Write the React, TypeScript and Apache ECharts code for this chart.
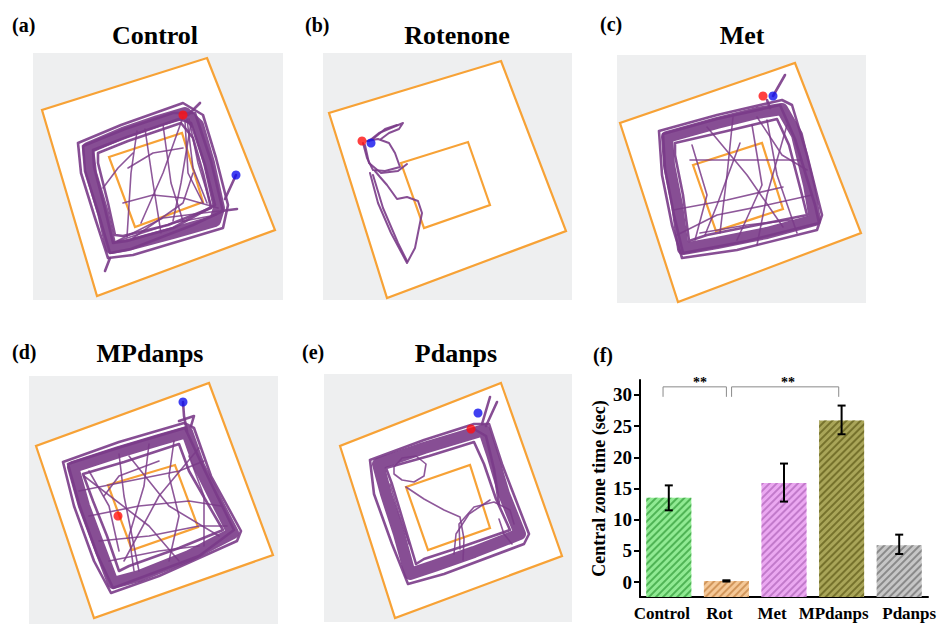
import React, { useEffect, useRef } from "react";
import * as echarts from "echarts";

// ---------------- Bar chart (f) data ----------------
const categories = ["Control", "Rot", "Met", "MPdanps", "Pdanps"];
const meanValues = [13.5, 0.15, 15.9, 25.9, 5.9];
const errLow = [11.5, 0.08, 12.9, 23.7, 4.5];
const errHigh = [15.5, 0.28, 19.0, 28.3, 7.6];
const yTicks = [0, 5, 10, 15, 20, 25, 30];
const axisFloor = -2.4;
const axisTop = 32.4;
const barColors = ["#90ea93", "#f5c897", "#eba8f1", "#a9a558", "#c6c6c6"];
const hatchColors = ["#4fb455", "#d2975c", "#c27acb", "#76722c", "#8a8a8a"];
// brackets: [fromPos, toPos, barY, endY] (category positions)
const sigBrackets = [
  [-0.1, 1.0, 31.3, 29.7],
  [1.09, 2.95, 31.3, 29.7],
];
const sigText = ["**", "**"];
const sigTextPos = [0.54, 2.07];
const sigTextY = 32.0;

// ---------------- Trajectory panels ----------------
const panelTitles = ["Control", "Rotenone", "Met", "MPdanps", "Pdanps"];
const panelLabels = ["(a)", "(b)", "(c)", "(d)", "(e)", "(f)"];

// Panel (a) Control
const outerA = [[174, 5], [242, 177], [64, 243], [9, 57]];
const innerA = [[76, 104], [149, 80], [170, 149], [102, 174]];
const coreA = [[55, 95], [90, 80], [125, 68], [152, 60], [165, 72], [176, 110], [186, 155], [182, 168], [140, 180], [95, 192], [78, 195], [70, 160], [58, 120], [55, 95]];
const edgesA = [
  [[45, 90], [88, 72], [150, 50], [170, 62], [183, 105], [195, 152], [190, 175], [100, 202], [75, 205], [62, 165], [48, 120], [45, 90]],
  [[65, 100], [95, 88], [148, 70], [160, 85], [170, 120], [178, 155], [135, 172], [90, 183], [82, 182], [75, 150], [65, 110], [65, 100]],
  [[50, 93], [92, 76], [140, 60], [162, 60], [178, 108], [190, 158], [160, 172], [98, 196], [77, 200], [66, 162], [52, 118], [50, 93]],
  [[60, 97], [94, 84], [146, 66], [158, 70], [172, 112], [182, 152], [140, 175], [94, 188], [80, 190], [72, 156], [61, 114], [60, 97]],
  [[77, 205], [72, 218]],
  [[155, 62], [167, 50]],
  [[203, 122], [192, 146]],
  [[188, 158], [204, 156]],
];
const pathsA = [
  [[104, 78], [98, 120], [94, 184]],
  [[112, 76], [120, 130], [128, 180]],
  [[152, 68], [155, 120], [170, 150]],
  [[156, 66], [165, 110], [178, 152]],
  [[154, 66], [160, 115], [174, 150]],
  [[150, 64], [130, 120], [108, 170]],
  [[95, 115], [120, 100], [150, 95]],
  [[90, 150], [120, 142], [150, 145], [185, 155]],
  [[80, 190], [130, 165], [186, 158]],
  [[85, 188], [140, 170], [183, 162]],
  [[70, 135], [85, 115], [100, 100]],
  [[100, 185], [150, 150], [160, 120]],
  [[130, 72], [138, 130], [150, 168]],
  [[158, 70], [148, 130], [140, 168]],
];
const redA = [150, 62];
const blueA = [203, 122];

// Panel (b) Rotenone
const outerB = [[178, 8], [243, 178], [64, 245], [6, 60]];
const innerB = [[78, 110], [145, 89], [167, 152], [101, 175]];
const coreB: number[][] = [];
const edgesB = [
  [[40, 90], [44, 105], [50, 117], [62, 118], [77, 114], [72, 100], [66, 90], [55, 86], [44, 88]],
  [[42, 92], [46, 110], [58, 120], [75, 118], [84, 111]],
  [[46, 88], [56, 80], [68, 75], [80, 70], [76, 76], [66, 80], [58, 86]],
  [[50, 86], [62, 76], [74, 72]],
  [[47, 120], [55, 150], [68, 180], [84, 210], [92, 195], [99, 160], [95, 148], [84, 144], [74, 146], [64, 132], [57, 124], [52, 118]],
  [[50, 122], [60, 155], [75, 190], [84, 208]],
];
const pathsB: number[][][] = [];
const redB = [39, 88];
const blueB = [48, 90];

// Panel (c) Met
const outerC = [[178, 8], [244, 178], [61, 247], [3, 68]];
const innerC = [[76, 110], [145, 88], [166, 154], [99, 176]];
const coreC = [[50, 82], [100, 68], [140, 58], [165, 54], [180, 80], [192, 130], [198, 165], [150, 178], [100, 188], [66, 194], [60, 150], [52, 110], [50, 82]];
const edgesC = [
  [[42, 76], [100, 60], [165, 45], [175, 50], [190, 100], [205, 160], [200, 175], [120, 195], [65, 203], [55, 170], [45, 120], [42, 76]],
  [[58, 88], [110, 76], [160, 64], [172, 90], [185, 140], [190, 160], [140, 170], [90, 180], [72, 186], [66, 140], [58, 100], [58, 88]],
  [[46, 79], [100, 64], [163, 50], [178, 84], [198, 150], [202, 168], [130, 186], [66, 198], [57, 160], [48, 114], [46, 79]],
  [[150, 45], [153, 53]],
  [[156, 41], [168, 20]],
];
const pathsC = [
  [[90, 72], [130, 120], [166, 172]],
  [[116, 62], [110, 120], [103, 178]],
  [[73, 105], [120, 105], [183, 105]],
  [[123, 88], [100, 150], [88, 180]],
  [[140, 62], [165, 100], [190, 115]],
  [[56, 155], [110, 145], [166, 132]],
  [[83, 178], [130, 170], [175, 165]],
  [[150, 65], [160, 120], [180, 178]],
  [[60, 180], [100, 160], [150, 150], [195, 140]],
  [[135, 70], [145, 130], [120, 185]],
  [[75, 90], [90, 140], [78, 185]],
  [[170, 70], [150, 140], [140, 190]],
];
const redC = [146, 41];
const blueC = [156, 41];

// Panel (d) MPdanps
const outerD = [[180, 7], [244, 179], [65, 242], [7, 70]];
const innerD = [[79, 109], [146, 89], [169, 151], [103, 174]];
const coreD = [[44, 91], [90, 76], [130, 64], [158, 56], [170, 90], [190, 130], [204, 157], [160, 180], [110, 200], [84, 207], [70, 170], [55, 130], [44, 91]];
const edgesD = [
  [[34, 86], [90, 66], [155, 47], [165, 52], [182, 100], [212, 155], [208, 165], [130, 200], [82, 217], [65, 185], [45, 130], [34, 86]],
  [[54, 98], [95, 86], [150, 68], [160, 95], [180, 130], [194, 154], [150, 172], [100, 190], [90, 195], [78, 160], [64, 125], [54, 98]],
  [[39, 88], [92, 71], [156, 52], [176, 95], [205, 154], [170, 180], [84, 212], [68, 178], [50, 128], [39, 88]],
  [[154, 26], [155, 40], [158, 55]],
  [[150, 45], [165, 40], [162, 50]],
];
const pathsD = [
  [[60, 95], [80, 130], [90, 175]],
  [[90, 78], [95, 120], [110, 195]],
  [[120, 68], [115, 110], [100, 160], [105, 195]],
  [[145, 65], [140, 100], [150, 140], [140, 185]],
  [[160, 80], [175, 120], [175, 170]],
  [[50, 115], [100, 105], [150, 95], [175, 85]],
  [[60, 140], [110, 130], [160, 125], [192, 130]],
  [[70, 165], [120, 160], [170, 150], [198, 150]],
  [[80, 185], [130, 175], [170, 170]],
  [[55, 100], [120, 150], [150, 185]],
  [[170, 72], [130, 120], [95, 185]],
  [[100, 80], [140, 130], [190, 160]],
  [[75, 120], [90, 100], [130, 85]],
];
const redD = [89, 140];
const blueD = [154, 26];

// Panel (e) Pdanps
const outerE = [[177, 9], [238, 182], [71, 244], [16, 72]];
const innerE = [[82, 113], [146, 91], [166, 154], [104, 176]];
const coreE = [[54, 90], [100, 74], [140, 62], [160, 56], [168, 80], [180, 120], [196, 160], [150, 178], [110, 192], [86, 200], [75, 160], [62, 120], [54, 90]];
const edgesE = [
  [[46, 86], [100, 66], [150, 50], [165, 50], [178, 90], [205, 160], [200, 170], [120, 200], [84, 210], [68, 170], [50, 120], [46, 86]],
  [[62, 94], [105, 82], [150, 68], [160, 90], [172, 125], [186, 156], [140, 172], [100, 185], [92, 190], [80, 150], [68, 110], [62, 94]],
  [[150, 55], [162, 62], [170, 95], [175, 130]],
  [[158, 50], [166, 23]],
  [[162, 52], [173, 28]],
];
const pathsE = [
  [[70, 93], [78, 84], [92, 82], [102, 90], [100, 102], [90, 108], [78, 106], [70, 100], [70, 93]],
  [[82, 113], [100, 125], [120, 136], [136, 143], [140, 165], [139, 186]],
  [[136, 175], [135, 150], [150, 133], [170, 128], [186, 136], [190, 150]],
  [[130, 180], [132, 160], [145, 140], [166, 126]],
  [[66, 110], [75, 140], [85, 170]],
  [[175, 145], [180, 160], [188, 170]],
];
const redE = [147, 55];
const blueE = [154, 39];

const PURPLE = "#7a3b88";
const ORANGE = "#f7a236";
const SERIF = "Liberation Serif";

const panels = [
  { box: { left: 33, top: 53, width: 250, height: 247 }, outer: outerA, inner: innerA, core: coreA, edges: edgesA, paths: pathsA, red: redA, blue: blueA },
  { box: { left: 323, top: 53, width: 249, height: 247 }, outer: outerB, inner: innerB, core: coreB, edges: edgesB, paths: pathsB, red: redB, blue: blueB },
  { box: { left: 617, top: 55, width: 249, height: 248 }, outer: outerC, inner: innerC, core: coreC, edges: edgesC, paths: pathsC, red: redC, blue: blueC },
  { box: { left: 29, top: 376, width: 249, height: 248 }, outer: outerD, inner: innerD, core: coreD, edges: edgesD, paths: pathsD, red: redD, blue: blueD },
  { box: { left: 324, top: 374, width: 248, height: 248 }, outer: outerE, inner: innerE, core: coreE, edges: edgesE, paths: pathsE, red: redE, blue: blueE },
];

const titlePos = [[155, 35], [457, 35], [742, 35], [150, 353], [456, 353]];
const labelPos = [[12, 25], [305, 25], [600, 24], [12, 352], [302, 352], [593, 355]];
// horizontal nudges of the x labels (px, negative = left)
const xLabelShift = [-7, -7, -12, -8, 10];

function textStyle(text: string, size: number, align: string) {
  return {
    text,
    fill: "#000",
    font: `bold ${size}px ${SERIF}`,
    fontFamily: SERIF,
    fontWeight: "bold",
    fontSize: size,
    align,
    verticalAlign: "middle",
  };
}

function buildOption() {
  const grid: any[] = [];
  const xAxis: any[] = [];
  const yAxis: any[] = [];
  const series: any[] = [];

  panels.forEach((p, k) => {
    grid.push({ ...p.box, show: true, backgroundColor: "#eeeff0", borderWidth: 0, containLabel: false });
    xAxis.push({ type: "value", gridIndex: k, min: 0, max: p.box.width, show: false });
    yAxis.push({ type: "value", gridIndex: k, min: 0, max: p.box.height, inverse: true, show: false });
    const frames = [p.outer, p.inner];
    series.push({
      type: "custom",
      xAxisIndex: k,
      yAxisIndex: k,
      silent: true,
      data: [[0], [1]],
      renderItem: (params: any, api: any) => {
        const pts = frames[params.dataIndex].map((q: number[]) => api.coord(q));
        return {
          type: "polygon",
          shape: { points: pts },
          style: {
            fill: params.dataIndex === 0 ? "#ffffff" : "none",
            stroke: ORANGE,
            lineWidth: 2.2,
          },
        };
      },
      z: 1,
    });
    if (p.core.length) {
      series.push({
        type: "lines",
        coordinateSystem: "cartesian2d",
        xAxisIndex: k,
        yAxisIndex: k,
        polyline: true,
        silent: true,
        data: [{ coords: p.core }],
        lineStyle: { color: PURPLE, width: 12, opacity: 0.9, cap: "round", join: "round" },
        z: 2,
      });
    }
    series.push({
      type: "lines",
      coordinateSystem: "cartesian2d",
      xAxisIndex: k,
      yAxisIndex: k,
      polyline: true,
      silent: true,
      data: p.edges.map((c) => ({ coords: c })),
      lineStyle: { color: PURPLE, width: k === 1 ? 2 : 2.6, opacity: 0.9, cap: "round", join: "round" },
      z: 3,
    });
    series.push({
      type: "lines",
      coordinateSystem: "cartesian2d",
      xAxisIndex: k,
      yAxisIndex: k,
      polyline: true,
      silent: true,
      data: p.paths.map((c) => ({ coords: c })),
      lineStyle: { color: PURPLE, width: 1.6, opacity: 0.85, cap: "round", join: "round" },
      z: 3,
    });
    series.push({
      type: "scatter",
      xAxisIndex: k,
      yAxisIndex: k,
      silent: true,
      symbolSize: 9,
      data: [
        { value: p.red, itemStyle: { color: "#ff1010" } },
        { value: p.blue, itemStyle: { color: "#1010ee" } },
      ],
      z: 4,
    });
  });

  // bar chart grid
  const gb = panels.length;
  grid.push({ left: 640, top: 380, width: 288, height: 217, containLabel: false });
  xAxis.push({
    type: "category",
    gridIndex: gb,
    data: categories.map((c, i) => ({
      value: c,
      textStyle: {
        padding: xLabelShift[i] < 0 ? [0, -2 * xLabelShift[i], 0, 0] : [0, 0, 0, 2 * xLabelShift[i]],
      },
    })),
    axisLine: { onZero: false, lineStyle: { color: "#000", width: 2 } },
    axisTick: { alignWithLabel: true, length: 6, lineStyle: { color: "#000", width: 2 } },
    axisLabel: { color: "#000", fontFamily: SERIF, fontWeight: "bold", fontSize: 17, margin: 8, interval: 0 },
  });
  yAxis.push({
    type: "value",
    gridIndex: gb,
    min: 0,
    max: axisTop - axisFloor,
    splitLine: { show: false },
    axisLine: { show: true, lineStyle: { color: "#000", width: 2 } },
    axisTick: { show: true, length: 6, lineStyle: { color: "#000", width: 2 }, customValues: yTicks.map((t) => t - axisFloor) },
    axisLabel: {
      color: "#000",
      fontFamily: SERIF,
      fontWeight: "bold",
      fontSize: 19,
      margin: 8,
      customValues: yTicks.map((t) => t - axisFloor),
      formatter: (v: number) => String(Math.round(v + axisFloor)),
    },
    name: "Central zone time (sec)",
    nameLocation: "middle",
    nameRotate: 90,
    nameGap: 32,
    nameTextStyle: { color: "#000", fontFamily: SERIF, fontWeight: "bold", fontSize: 18 },
  });
  series.push({
    type: "bar",
    xAxisIndex: gb,
    yAxisIndex: gb,
    barWidth: 45,
    silent: true,
    data: meanValues.map((v, i) => ({
      value: v - axisFloor,
      itemStyle: {
        color: barColors[i],
        decal: {
          symbol: "rect",
          symbolSize: 1,
          dashArrayX: [1, 0],
          dashArrayY: [1.2, 2.4],
          rotation: -Math.PI / 4,
          color: hatchColors[i],
        },
      },
    })),
    z: 2,
  });
  series.push({
    type: "custom",
    xAxisIndex: gb,
    yAxisIndex: gb,
    silent: true,
    data: categories.map((_, i) => [i, errLow[i] - axisFloor, errHigh[i] - axisFloor]),
    renderItem: (params: any, api: any) => {
      const lo = api.coord([api.value(0), api.value(1)]);
      const hi = api.coord([api.value(0), api.value(2)]);
      const w = 4;
      const st = { stroke: "#000", lineWidth: 2 };
      return {
        type: "group",
        children: [
          { type: "line", shape: { x1: lo[0], y1: lo[1], x2: hi[0], y2: hi[1] }, style: st },
          { type: "line", shape: { x1: lo[0] - w, y1: lo[1], x2: lo[0] + w, y2: lo[1] }, style: st },
          { type: "line", shape: { x1: hi[0] - w, y1: hi[1], x2: hi[0] + w, y2: hi[1] }, style: st },
        ],
      };
    },
    z: 5,
  });
  series.push({
    type: "custom",
    xAxisIndex: gb,
    yAxisIndex: gb,
    silent: true,
    clip: false,
    data: sigBrackets.map((b, i) => [i]),
    renderItem: (params: any, api: any) => {
      const b = sigBrackets[params.dataIndex];
      const bw = api.size([1, 0])[0];
      const base = api.coord([0, b[2] - axisFloor]);
      const endY = api.coord([0, b[3] - axisFloor])[1];
      const x1 = base[0] + b[0] * bw;
      const x2 = base[0] + b[1] * bw;
      const tp = api.coord([0, sigTextY - axisFloor]);
      const tx = tp[0] + sigTextPos[params.dataIndex] * bw;
      return {
        type: "group",
        children: [
          {
            type: "polyline",
            shape: { points: [[x1, endY], [x1, base[1]], [x2, base[1]], [x2, endY]] },
            style: { stroke: "#8a8a8a", lineWidth: 1, fill: "none" },
          },
          {
            type: "text",
            x: tx,
            y: tp[1],
            style: textStyle(sigText[params.dataIndex], 14, "center"),
          },
        ],
      };
    },
    z: 5,
  });

  const graphic: any[] = [];
  panelTitles.forEach((t, i) => {
    graphic.push({ type: "text", x: titlePos[i][0], y: titlePos[i][1], style: textStyle(t, 26, "center") });
  });
  panelLabels.forEach((t, i) => {
    graphic.push({ type: "text", x: labelPos[i][0], y: labelPos[i][1], style: textStyle(t, 20, "left") });
  });

  return {
    animation: false,
    backgroundColor: "#ffffff",
    grid,
    xAxis,
    yAxis,
    series,
    graphic,
  };
}

export default function App() {
  const ref = useRef<HTMLDivElement>(null);
  useEffect(() => {
    document.body.style.margin = "0";
    if (!ref.current) return;
    const chart = echarts.init(ref.current, undefined, { renderer: "svg" });
    chart.setOption(buildOption() as any);
    return () => chart.dispose();
  }, []);
  return <div ref={ref} style={{ width: 940, height: 625 }} />;
}
